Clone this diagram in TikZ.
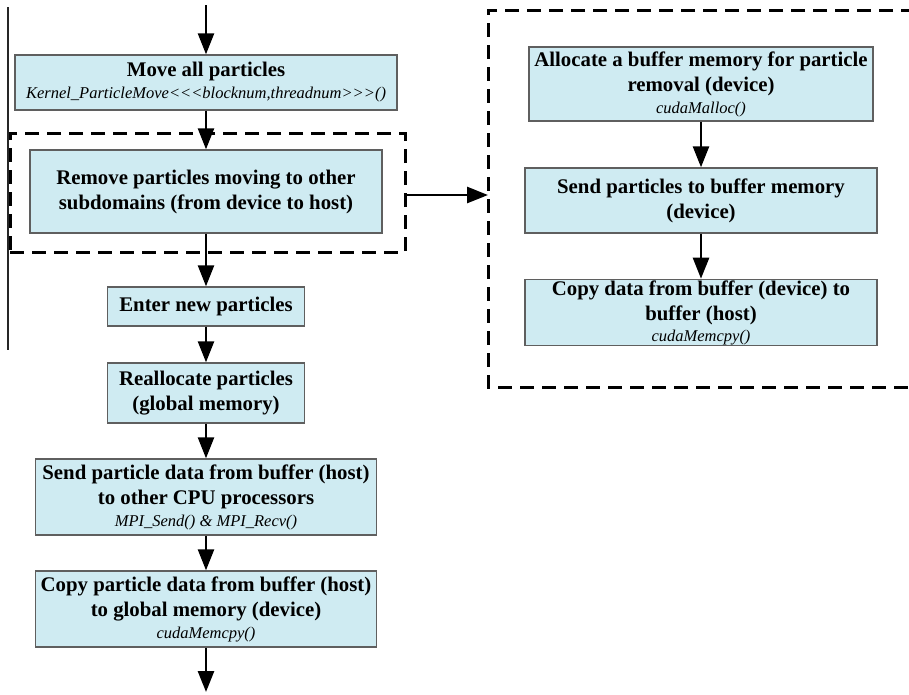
\documentclass[tikz,border=0pt]{standalone}
\usepackage{fontspec}
\setmainfont{Liberation Serif}
\usetikzlibrary{arrows.meta}
\definecolor{boxfill}{RGB}{207,235,242}
\definecolor{boxline}{RGB}{95,95,95}
\newcommand{\boldtxt}{\fontsize{20.8}{25}\selectfont\bfseries}
\newcommand{\codetxt}{\fontsize{16.5}{19}\selectfont\mdseries\itshape}
\tikzset{
  box/.style={draw=boxline, line width=1.4pt, fill=boxfill, align=center,
    font=\boldtxt, inner sep=1pt},
  arr/.style={line width=2.6pt, -{Triangle[length=21pt,width=16pt]}},
  dashbox/.style={line width=3pt, dash pattern=on 14pt off 8pt},
}
\begin{document}
\begin{tikzpicture}[x=1pt, y=-1pt]
\useasboundingbox (0,0) rectangle (909,694);

% thin left line
\coordinate (lt) at (8,7);
\coordinate (lb) at (8,350);
\draw[line width=1.3pt, black!85] (lt) -- (lb);

% left column boxes
\node[box, minimum width=382pt, minimum height=55pt] (b1) at (206,82.5)
  {Move all particles\\[-3pt]{\codetxt Kernel\_ParticleMove{<}{<}{<}blocknum,threadnum{>}{>}{>}()}};
\node[draw, dashbox, minimum width=395pt, minimum height=119pt, inner sep=0pt] (d1) at (207.5,192.5) {};
\node[box, minimum width=352pt, minimum height=83pt] (b2) at (206,191.5)
  {Remove particles moving to other\\subdomains (from device to host)};
\node[box, minimum width=197pt, minimum height=39pt] (b3) at (206,306.5)
  {Enter new particles};
\node[box, minimum width=197pt, minimum height=60pt] (b4) at (206,393)
  {Reallocate particles\\(global memory)};
\node[box, minimum width=341pt, minimum height=76pt] (b5) at (206,497)
  {Send particle data from buffer (host)\\to other CPU processors\\[-3pt]{\codetxt MPI\_Send() \& MPI\_Recv()}};
\node[box, minimum width=341pt, minimum height=76pt] (b6) at (206,609)
  {Copy particle data from buffer (host)\\to global memory (device)\\[-3pt]{\codetxt cudaMemcpy()}};

% right dashed frame (its right side lies beyond the picture)
\coordinate (d2ne) at (915,10);
\coordinate (d2nw) at (488,10);
\coordinate (d2sw) at (488,387);
\coordinate (d2se) at (915,387);
\draw[dashbox] (d2ne) -- (d2nw) -- (d2sw) -- (d2se);

% right column boxes
\node[box, minimum width=344pt, minimum height=74pt] (r1) at (701,84)
  {Allocate a buffer memory for particle\\removal (device)\\[-3pt]{\codetxt cudaMalloc()}};
\node[box, minimum width=352pt, minimum height=65pt] (r2) at (701,200.5)
  {Send particles to buffer memory\\(device)};
\node[box, minimum width=352pt, minimum height=65pt] (r3) at (701,312.5)
  {Copy data from buffer (device) to\\buffer (host)\\[-4pt]{\codetxt cudaMemcpy()}};

% connectors
\coordinate (top) at (206,5);
\coordinate (bot) at (206,692);
\draw[arr] (top) -- (b1.north);
\draw[arr] (b1.south) -- (b2.north);
\draw[arr] (b2.south) -- (b3.north);
\draw[arr] (b3.south) -- (b4.north);
\draw[arr] (b4.south) -- (b5.north);
\draw[arr] (b5.south) -- (b6.north);
\draw[arr] (b6.south) -- (bot);
\coordinate (ds) at (405,195);
\draw[arr] (ds) -- (ds -| d2nw);
\draw[arr] (r1.south) -- (r2.north);
\draw[arr] (r2.south) -- (r3.north);
\end{tikzpicture}
\end{document}
